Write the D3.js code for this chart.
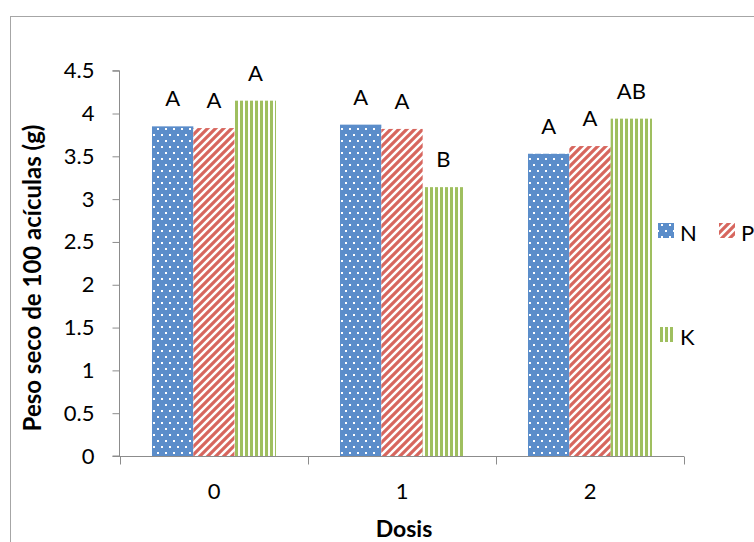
<!DOCTYPE html>
<html><head><meta charset="utf-8">
<script src="https://cdn.jsdelivr.net/npm/d3@7"></script>
<style>
html,body{margin:0;padding:0;background:#fff;}
svg{display:block;font-family:Lato,"Liberation Sans",sans-serif;}
</style></head>
<body><svg id="c" width="754" height="542"></svg>
<script>
const categories = ["0","1","2"];
const seriesNames = ["N","P","K"];
const valuesN = [3.85, 3.87, 3.53];
const valuesP = [3.83, 3.82, 3.62];
const valuesK = [4.15, 3.14, 3.94];
const labelsN = ["A","A","A"];
const labelsP = ["A","A","A"];
const labelsK = ["A","B","AB"];
const yTicks = [0,0.5,1,1.5,2,2.5,3,3.5,4,4.5];
const yTitle = "Peso seco de 100 acículas (g)";
const xTitle = "Dosis";

const series = [
  {name:"N", values:valuesN, labels:labelsN, fill:"url(#patN)"},
  {name:"P", values:valuesP, labels:labelsP, fill:"url(#patP)"},
  {name:"K", values:valuesK, labels:labelsK, fill:"url(#patK)"}
];

const svg = d3.select("#c");
const blue="#5b8dca", red="#d7665e", green="#9fbf5f", axisCol="#8c8c8c";
const fs = 22;

// patterns
const defs = svg.append("defs");
const pN = defs.append("pattern").attr("id","patN").attr("patternUnits","userSpaceOnUse")
  .attr("width",8).attr("height",12);
pN.append("rect").attr("width",8).attr("height",12).attr("fill",blue);
pN.append("rect").attr("x",1).attr("y",2).attr("width",2).attr("height",2).attr("fill","#fff");
pN.append("rect").attr("x",5).attr("y",8).attr("width",2).attr("height",2).attr("fill","#fff");

const pP = defs.append("pattern").attr("id","patP").attr("patternUnits","userSpaceOnUse")
  .attr("width",8).attr("height",8);
pP.append("rect").attr("width",8).attr("height",8).attr("fill","#fff");
pP.append("path").attr("d","M-2,2 L2,-2 M0,8 L8,0 M6,10 L10,6")
  .attr("stroke",red).attr("stroke-width",3.2);

const pK = defs.append("pattern").attr("id","patK").attr("patternUnits","userSpaceOnUse")
  .attr("width",5).attr("height",5);
pK.append("rect").attr("width",5).attr("height",5).attr("fill","#fff");
pK.append("rect").attr("x",0).attr("width",3).attr("height",5).attr("fill",green);

// outer border
svg.append("rect").attr("x",10.5).attr("y",16.5).attr("width",800).attr("height",600)
  .attr("fill","none").attr("stroke","#a6a6a6").attr("stroke-width",1);

const pLeft=120, pRight=684, pTop=70.7, pBottom=456;
const y = d3.scaleLinear().domain([0,4.5]).range([pBottom,pTop]);
const x0 = d3.scaleBand().domain(categories).range([pLeft,pRight]).padding(0);
const x1 = d3.scaleBand().domain(seriesNames).range([0,x0.bandwidth()]).paddingInner(0).paddingOuter(0.774);
const xl = d3.scaleLinear().domain([0,categories.length]).range([pLeft,pRight]);

// bars
const g = svg.append("g");
series.forEach(s=>{
  g.selectAll(null).data(categories).enter().append("rect")
    .attr("x",(c)=>x0(c)+x1(s.name))
    .attr("y",(c,i)=>y(s.values[i]))
    .attr("width",x1.bandwidth())
    .attr("height",(c,i)=>y(0)-y(s.values[i]))
    .attr("fill",s.fill);
  g.selectAll(null).data(categories).enter().append("text")
    .attr("x",(c)=>x0(c)+x1(s.name)+x1.bandwidth()/2)
    .attr("y",(c,i)=>y(s.values[i])-20)
    .attr("text-anchor","middle").attr("font-size",fs).attr("fill","#000")
    .text((c,i)=>s.labels[i]);
});

// y axis
const ya = svg.append("g").attr("transform",`translate(${pLeft-0.5},0)`)
  .call(d3.axisLeft(y).tickValues(yTicks).tickSize(7).tickPadding(18).tickFormat(d3.format("")));
ya.select(".domain").attr("stroke",axisCol).attr("d",`M-7,${y(4.5)}H0V${y(0)}H-7`);
ya.selectAll(".tick line").attr("stroke",axisCol);
ya.selectAll(".tick text").attr("font-size",fs).attr("fill","#000").attr("font-family","Lato");

// x axis
const xa = svg.append("g").attr("transform",`translate(0,${pBottom+0.5})`)
  .call(d3.axisBottom(xl).tickValues(d3.range(categories.length+1)).tickSize(8).tickFormat(""));
xa.select(".domain").attr("stroke",axisCol).attr("d",`M${pLeft-1},0H${pRight}`);
xa.selectAll(".tick line").attr("stroke",axisCol);
const xb = svg.append("g").attr("transform",`translate(0,${pBottom+0.5})`)
  .call(d3.axisBottom(x0).tickSize(0).tickPadding(27));
xb.select(".domain").remove();
xb.selectAll(".tick text").attr("font-size",fs).attr("fill","#000").attr("font-family","Lato");

// titles
svg.append("text").attr("transform","translate(41,278) rotate(-90)")
  .attr("text-anchor","middle").attr("font-weight","bold").attr("font-size",24).text(yTitle);
svg.append("text").attr("x",404).attr("y",537)
  .attr("text-anchor","middle").attr("font-weight","bold").attr("font-size",23).text(xTitle);

// legend
const legendPos = [{x:658,y:223},{x:719,y:223},{x:658,y:327}];
series.forEach((s,i)=>{
  const p = legendPos[i];
  svg.append("rect").attr("x",p.x).attr("y",p.y).attr("width",16).attr("height",15).attr("fill",s.fill);
  svg.append("text").attr("x",p.x+22).attr("y",p.y+18).attr("font-size",fs).text(s.name);
});
</script></body></html>
